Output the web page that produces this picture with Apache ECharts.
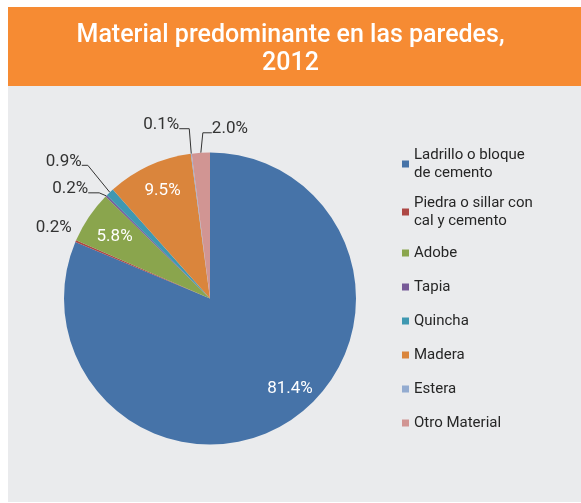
<!DOCTYPE html>
<html>
<head>
<meta charset="utf-8">
<script src="https://cdn.jsdelivr.net/npm/echarts@6/dist/echarts.min.js"></script>
<style>
  html, body { margin: 0; padding: 0; background: #fff; }
  #main { width: 581px; height: 503px; }
</style>
</head>
<body>
<div id="main"></div>
<script>
// 数据：材料类别与百分比
const categories = [
  "Ladrillo o bloque de cemento",
  "Piedra o sillar con cal y cemento",
  "Adobe",
  "Tapia",
  "Quincha",
  "Madera",
  "Estera",
  "Otro Material"
];
const legendLabels = [
  "Ladrillo o bloque\nde cemento",
  "Piedra o sillar con\ncal y cemento",
  "Adobe",
  "Tapia",
  "Quincha",
  "Madera",
  "Estera",
  "Otro Material"
];
const values = [81.4, 0.2, 5.8, 0.2, 0.9, 9.5, 0.1, 2.0];
const colors = ["#4673a8", "#ad4744", "#8aa54d", "#775a98", "#3f98b1", "#da853c", "#93abd0", "#d19593"];

// 标签放在扇区内部的项，以及微调偏移
const insideIdx = [0, 2, 5];
const insideNudge = { 0: [13, -11], 2: [5, 6], 5: [3, 2] };
// 外部小标签的引线：[径向偏移x, 偏移y, 水平段]
const leaders = {
  1: [-4, -9, 0],
  3: [-7, -3, -11],
  4: [-22, -27, -6],
  6: [-2, -25, -10],
  7: [2, -20, 9]
};

const fontFamily = "Roboto, 'Noto Sans', sans-serif";
const center = [210, 298.5];
const radius = 146;

const chart = echarts.init(document.getElementById("main"));

const mainData = categories.map((name, i) => {
  const inside = insideIdx.includes(i);
  return {
    name: name,
    value: values[i],
    itemStyle: { color: colors[i] },
    label: { show: !inside },
    labelLine: {
      show: !inside,
      lineStyle: i === 1 ? { color: "rgba(0,0,0,0)" } : {}
    }
  };
});

const overlayData = categories.map((name, i) => ({
  name: name,
  value: values[i],
  label: { show: insideIdx.includes(i) }
}));

chart.setOption({
  animation: false,
  graphic: [
    { type: "rect", shape: { x: 8, y: 7, width: 573, height: 79 }, style: { fill: "#f68b33" }, z: -10 },
    { type: "rect", shape: { x: 8, y: 86, width: 573, height: 416 }, style: { fill: "#eaebed" }, z: -10 }
  ],
  title: {
    text: "Material predominante en las paredes,\n2012",
    left: "center",
    top: 22,
    padding: [0, 0, 0, 8],
    textStyle: {
      color: "#fff",
      fontFamily: fontFamily,
      fontSize: 25,
      fontWeight: 500,
      lineHeight: 28
    }
  },
  legend: {
    orient: "vertical",
    left: 402,
    top: 146,
    padding: 0,
    icon: "rect",
    itemWidth: 7,
    itemHeight: 7,
    itemGap: 12,
    selectedMode: false,
    data: categories.map((name, i) => ({
      name: name,
      textStyle: { padding: legendLabels[i].includes("\n") ? 0 : [2, 0, 2, 0] }
    })),
    formatter: (name) => legendLabels[categories.indexOf(name)],
    textStyle: {
      color: "#262626",
      fontFamily: fontFamily,
      fontSize: 15,
      lineHeight: 18
    }
  },
  series: [
    {
      name: "Material",
      type: "pie",
      center: center,
      radius: radius,
      startAngle: 90,
      clockwise: true,
      avoidLabelOverlap: false,
      itemStyle: { borderWidth: 0 },
      emphasis: { disabled: true },
      label: {
        position: "outside",
        color: "#333",
        fontFamily: fontFamily,
        fontSize: 17,
        formatter: (p) => p.value.toFixed(1) + "%"
      },
      labelLine: {
        show: true,
        length: 10,
        length2: 10,
        lineStyle: { color: "#333", width: 1 }
      },
      labelLayout: (p) => {
        const o = leaders[p.dataIndex];
        if (!o || !p.labelLinePoints) return {};
        const a = p.labelLinePoints[0];
        const b = [a[0] + o[0], a[1] + o[1]];
        const c = [b[0] + o[2], b[1]];
        return {
          x: c[0],
          y: c[1] - 4,
          align: o[2] <= 0 ? "right" : "left",
          verticalAlign: "middle",
          labelLinePoints: [a, b, c]
        };
      },
      data: mainData
    },
    {
      // 内部百分比标签（位于半径约 0.8 处）
      name: "Etiquetas",
      type: "pie",
      center: center,
      radius: [90, radius],
      startAngle: 90,
      clockwise: true,
      silent: true,
      z: 3,
      itemStyle: { color: "rgba(0,0,0,0)", borderWidth: 0 },
      emphasis: { disabled: true },
      label: {
        position: "inside",
        color: "#fff",
        fontFamily: fontFamily,
        fontSize: 17,
        formatter: (p) => p.value.toFixed(1) + "%"
      },
      labelLine: { show: false },
      labelLayout: (p) => {
        const n = insideNudge[p.dataIndex];
        return n ? { dx: n[0], dy: n[1] } : {};
      },
      data: overlayData
    }
  ]
});
</script>
</body>
</html>
